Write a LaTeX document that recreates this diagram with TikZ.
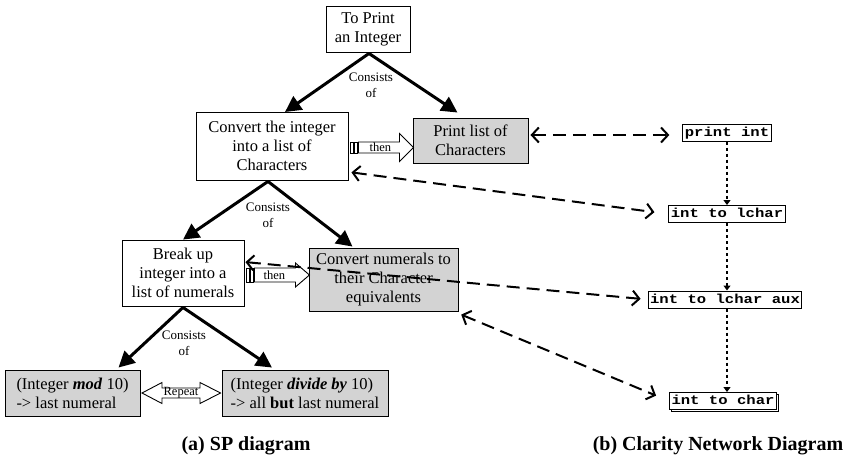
\documentclass[tikz,border=0pt]{standalone}
\usepackage{fontspec}
\setmainfont{Liberation Serif}
\newfontfamily\clarityfont[FakeStretch=1.2]{Liberation Mono}
\usetikzlibrary{arrows.meta,calc,shadows}
\definecolor{boxgray}{RGB}{211,211,211}
\begin{document}
\begin{tikzpicture}[x=1pt,y=-1pt,
  sp/.style={draw,line width=0.9pt,align=center,inner sep=0pt,font=\fontsize{16.5}{19}\selectfont},
  spg/.style={sp,fill=boxgray},
  bigarrow/.style={line width=3pt,-{Triangle[length=16pt,width=16pt]}},
  link/.style={line width=2pt,dash pattern=on 13pt off 7pt,{Straight Barb[length=7pt,width=15pt]}-{Straight Barb[length=7pt,width=15pt]}},
  lbl/.style={font=\fontsize{13}{16}\selectfont,align=center,inner sep=0pt},
  small/.style={font=\fontsize{12.5}{14}\selectfont,inner sep=0pt},
  cn/.style={draw,line width=1pt,fill=white,inner xsep=2pt,inner ysep=2pt,text height=10pt,text depth=3pt,font=\fontsize{13}{13}\clarityfont\bfseries},
  flow/.style={line width=1.2pt,dash pattern=on 3pt off 3pt,-{Triangle[length=5pt,width=7pt]}},
  hollow/.style={draw,line width=0.9pt,fill=white},
  captext/.style={font=\fontsize{20}{24}\selectfont\bfseries,anchor=base}
]
\useasboundingbox (0,0) rectangle (857,463);

% SP diagram nodes
\node[sp,minimum width=84pt,minimum height=46pt] (top) at (368,29) {To Print\\an Integer};
\node[sp,minimum width=152pt,minimum height=68pt] (conv) at (272,146) {Convert the integer\\into a list of\\Characters};
\node[spg,minimum width=115pt,minimum height=45pt] (print) at (470.5,140.5) {Print list of\\Characters};
\node[sp,minimum width=122pt,minimum height=66pt] (brk) at (183,273) {Break up\\integer into a\\list of numerals};
\node[spg,minimum width=149pt,minimum height=63pt] (num) at (383.5,279.5) {Convert numerals to\\their Character\\equivalents};
\node[spg,minimum width=135pt,minimum height=46pt,align=left] (mod) at (72.5,393) {(Integer \textbf{\textit{mod}} 10)\\-> last numeral};
\node[spg,minimum width=166pt,minimum height=46pt,align=left] (div) at (305,393) {(Integer \textbf{\textit{divide by}} 10)\\-> all \textbf{but} last numeral};

% Consists of
\node[lbl] (c1) at (371,85) {Consists\\of};
\node[lbl] (c2) at (268,215) {Consists\\of};
\node[lbl] (c3) at (184,343) {Consists\\of};

\draw[bigarrow] ($(top.south)+(1,1)$) -- (285,112);
\draw[bigarrow] ($(top.south)+(1,1)$) -- ($(print.north)+(-13,-5)$);
\draw[bigarrow] ($(conv.south)+(-4,1)$) -- (brk.north);
\draw[bigarrow] ($(conv.south)+(-4,1)$) -- ($(num.north)+(-31,-1)$);
\draw[bigarrow] ($(brk.south)+(0,1)$) -- ($(mod.north)+(46,-2)$);
\draw[bigarrow] ($(brk.south)+(0,1)$) -- ($(div.north)+(-33,-2)$);

% then arrows
\begin{scope}[shift={($(conv.east)+(0,1.5)$)}]
  \draw[hollow] (2,-5.5) rectangle (5,5.5);
  \draw[hollow] (6,-5.5) rectangle (9,5.5);
  \draw[hollow] (10,-5.5) -- (51,-5.5) -- (51,-14) -- (65,0) -- (51,14) -- (51,5.5) -- (10,5.5) -- cycle;
  \node[small] (then1) at (32,0) {then};
\end{scope}
\begin{scope}[shift={($(brk.east)+(0,2)$)}]
  \draw[hollow] (2,-7) rectangle (5,7);
  \draw[hollow] (6,-7) rectangle (9,7);
  \draw[hollow] (10,-7) -- (51,-7) -- (51,-12) -- (65,0) -- (51,12) -- (51,7) -- (10,7) -- cycle;
  \node[small] (then2) at (30,0) {then};
\end{scope}

% repeat arrow
\draw[hollow] (142,393) -- (162,382.5) -- (162,388) -- (200,388) -- (200,382.5) -- (220.5,393) -- (200,403.5) -- (200,398) -- (162,398) -- (162,403.5) -- cycle;
\node[small] (rep) at (181,392.5) {Repeat};

% Clarity network
\node[cn] (pi) at (727,132.5) {print int};
\node[cn] (lc) at (727,214) {int to lchar};
\node[cn] (lca) at (725,299.5) {int to lchar aux};
\node[cn,copy shadow={shadow xshift=2pt,shadow yshift=-2pt,draw=black}] (ch) at (723,401) {int to char};

\draw[flow] (pi.south) -- (pi.south |- lc.north);
\draw[flow] (lc.south) -- (lc.south |- lca.north);
\draw[flow] (lc.south |- lca.south) -- (lc.south |- ch.north);

% links
\draw[link,shorten <=2pt,shorten >=13pt] (print.east |- 0,135) -- (pi.west |- 0,135);
\draw[link,shorten <=3pt,shorten >=14pt] ($(conv.east)+(0,26)$) -- (lc.west);
\draw[link,shorten <=1pt,shorten >=7pt] ($(brk.east)+(0,-11)$) -- (lca.west);
\draw[link,shorten <=3pt,shorten >=14pt] ($(num.south east)+(0,2)$) -- (ch.west);

% captions
\node[captext] (capa) at (246,450) {(a) SP diagram};
\node[captext] (capb) at (718,450) {(b) Clarity Network Diagram};
\end{tikzpicture}
\end{document}
